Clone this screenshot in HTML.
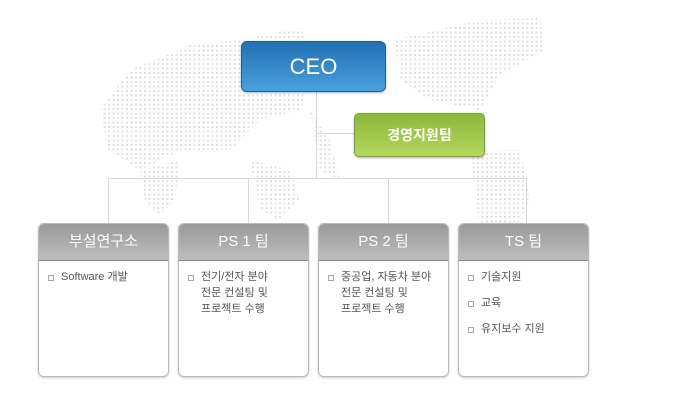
<!DOCTYPE html>
<html><head><meta charset="utf-8"><style>
body{margin:0;width:679px;height:400px;background:#fff;position:relative;overflow:hidden;font-family:"Liberation Sans","Noto Sans CJK KR",sans-serif}
.abs{position:absolute}
.ceo{left:241px;top:41px;width:143px;height:49px;border-radius:6px;border:1px solid #1d5f95;background:linear-gradient(#2370b4,#4aa0dc);color:#fff;font-size:22px;text-align:center;line-height:49px;box-shadow:0 1px 2px rgba(0,0,0,.3)}
.mg{left:354px;top:113px;width:129px;height:42px;border-radius:5px;border:1px solid #7aa232;background:linear-gradient(#8cb83a,#b3d65f);color:#fff;font-size:14px;font-weight:bold;text-align:center;line-height:42px;box-shadow:0 1px 2px rgba(0,0,0,.3)}
.box{top:223px;width:129px;height:152px;border:1px solid #bbb;border-radius:6px;background:#fff;box-shadow:0 1px 2px rgba(0,0,0,.2);overflow:hidden}
.hd{height:36px;background:linear-gradient(#9a9a9a,#bdbdbd);border-bottom:1px solid #888;color:#fff;font-size:15px;text-align:center;line-height:36px}
.it{font-size:11px;color:#555;padding-left:22px;position:relative;line-height:16px;margin-top:8px}
.it:before{content:"";position:absolute;left:9px;top:6px;width:4px;height:4px;border:1px solid #aaa}
</style></head><body>
<svg class="abs" style="left:0;top:0" width="679" height="400">
<defs><pattern id="d" width="4.5" height="4.5" patternUnits="userSpaceOnUse"><rect width="2" height="2" fill="#e0e0e0"/></pattern></defs>
<g fill="url(#d)">
<polygon points="130,70 190,45 240,40 300,28 320,60 300,110 260,120 230,150 180,150 140,170 108,150 100,110"/>
<polygon points="140,170 180,160 175,200 160,215 145,200"/>
<polygon points="250,160 290,170 300,200 280,220 260,210"/>
<polygon points="310,110 330,140 340,180 320,170"/>
<polygon points="395,40 480,20 540,18 545,50 500,75 480,110 430,100 400,80"/>
<polygon points="470,150 520,150 530,200 515,230 480,230"/>
</g>
<g stroke="#d8d8d8" stroke-width="1" fill="none">
<path d="M316.5 91V178.5M316.5 133.5H354M108 178.5H527M108.5 178V223M248.5 178V223M388.5 178V223M526.5 178V223"/>
</g>
</svg>
<div class="abs ceo">CEO</div>
<div class="abs mg">경영지원팀</div>
<div class="abs box" style="left:38px"><div class="hd">부설연구소</div><div class="it">Software 개발</div></div>
<div class="abs box" style="left:178px"><div class="hd">PS 1 팀</div><div class="it">전기/전자 분야<br>전문 컨설팅 및<br>프로젝트 수행</div></div>
<div class="abs box" style="left:318px"><div class="hd">PS 2 팀</div><div class="it">중공업, 자동차 분야<br>전문 컨설팅 및<br>프로젝트 수행</div></div>
<div class="abs box" style="left:458px"><div class="hd">TS 팀</div><div class="it">기술지원</div><div class="it" style="margin-top:10px">교육</div><div class="it" style="margin-top:10px">유지보수 지원</div></div>
</body></html>
